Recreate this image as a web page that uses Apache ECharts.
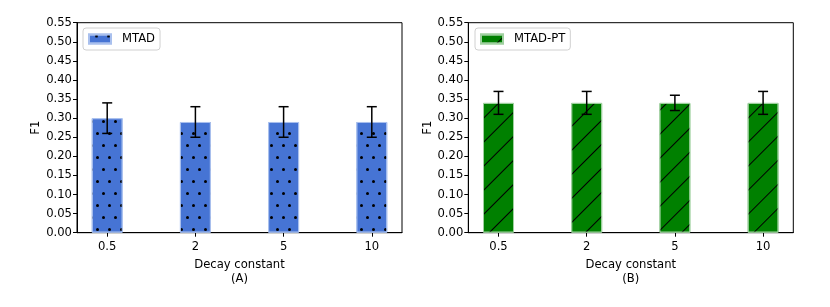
<!DOCTYPE html>
<html><head><meta charset="utf-8">
<script src="https://cdn.jsdelivr.net/npm/echarts@6/dist/echarts.min.js"></script>
<style>html,body{margin:0;padding:0;background:#fff}#c{width:830px;height:307px}</style>
</head><body><div id="c"></div>
<script>
const categories = ['0.5', '2', '5', '10'];
const yTicks = [0, 0.05, 0.10, 0.15, 0.20, 0.25, 0.30, 0.35, 0.40, 0.45, 0.50, 0.55];
const mtadF1 = [0.30, 0.29, 0.29, 0.29];
const mtadLow = [0.26, 0.25, 0.25, 0.25];
const mtadHigh = [0.34, 0.33, 0.33, 0.33];
const ptF1 = [0.34, 0.34, 0.34, 0.34];
const ptLow = [0.31, 0.31, 0.32, 0.31];
const ptHigh = [0.37, 0.37, 0.36, 0.37];

const FONT = 'DejaVu Sans';
const FS = 11.6;
const idx = categories.map((_, i) => i);
const chart = echarts.init(document.getElementById('c'), null, {renderer: 'canvas'});

function xAxis(gi, sub) {
  return {
    type: 'value', gridIndex: gi, min: -0.3425, max: 3.3425,
    name: 'Decay constant\n' + sub, nameLocation: 'middle', nameGap: 13.5,
    nameTextStyle: {fontFamily: FONT, fontSize: FS, color: '#000', lineHeight: 14.5},
    axisLine: {show: true, onZero: false, lineStyle: {color: '#000', width: 1}},
    axisTick: {show: true, customValues: idx, length: 4, lineStyle: {color: '#000'}},
    axisLabel: {customValues: idx, formatter: v => categories[Math.round(v)], fontFamily: FONT, fontSize: FS, color: '#000', margin: 8},
    splitLine: {show: false}
  };
}
function yAxis(gi) {
  return {
    type: 'value', gridIndex: gi, min: yTicks[0], max: yTicks[yTicks.length - 1], interval: 0.05,
    name: 'F1', nameLocation: 'middle', nameGap: 34,
    nameTextStyle: {fontFamily: FONT, fontSize: FS, color: '#000'},
    axisLine: {show: true, onZero: false, lineStyle: {color: '#000', width: 1}},
    axisTick: {show: true, length: 4, lineStyle: {color: '#000'}},
    axisLabel: {formatter: v => v.toFixed(2), fontFamily: FONT, fontSize: FS, color: '#000', margin: 5},
    splitLine: {show: false}
  };
}
function errSeries(gi, low, high) {
  return {
    type: 'custom', xAxisIndex: gi, yAxisIndex: gi, z: 5,
    data: idx.map(i => [i, low[i], high[i]]),
    renderItem: (params, api) => {
      const p1 = api.coord([api.value(0), api.value(1)]);
      const p2 = api.coord([api.value(0), api.value(2)]);
      const st = {stroke: '#000', lineWidth: 1.5};
      const c = 5;
      return {type: 'group', children: [
        {type: 'line', shape: {x1: p1[0], y1: p1[1], x2: p2[0], y2: p2[1]}, style: st},
        {type: 'line', shape: {x1: p1[0] - c, y1: p1[1], x2: p1[0] + c, y2: p1[1]}, style: st},
        {type: 'line', shape: {x1: p2[0] - c, y1: p2[1], x2: p2[0] + c, y2: p2[1]}, style: st}
      ]};
    }
  };
}
const dotDecal = {symbol: 'circle', symbolSize: 1, dashArrayX: [[3, 8.5], [0, 5.75, 3, 2.75]], dashArrayY: [3, 8.7], color: '#000', rotation: 0};
const lineDecal = {symbol: 'rect', symbolSize: 1, dashArrayX: [1, 0], dashArrayY: [0.9, 15.6], color: '#000', rotation: -Math.PI / 4};

const legendBase = {itemWidth: 22, itemHeight: 9, itemGap: 8, padding: [5, 5, 5, 5], icon: 'rect',
  borderColor: '#d0d0d0', borderWidth: 1, borderRadius: 3,
  textStyle: {fontFamily: FONT, fontSize: FS, color: '#000', padding: [0, 0, 0, 6]}};

chart.setOption({
  animation: false,
  grid: [
    {left: 77, top: 22.7, width: 325, height: 210, show: true, borderColor: '#000', borderWidth: 1},
    {left: 468.3, top: 22.7, width: 325, height: 210, show: true, borderColor: '#000', borderWidth: 1}
  ],
  xAxis: [xAxis(0, '(A)'), xAxis(1, '(B)')],
  yAxis: [yAxis(0), yAxis(1)],
  legend: [
    Object.assign({data: ['MTAD'], left: 83, top: 28}, legendBase),
    Object.assign({data: ['MTAD-PT'], left: 475, top: 28}, legendBase)
  ],
  series: [
    {name: 'MTAD', type: 'bar', xAxisIndex: 0, yAxisIndex: 0, barWidth: 31,
     data: idx.map(i => [i, mtadF1[i]]),
     itemStyle: {color: '#4674d4', borderColor: '#a9c0ee', borderWidth: 1, decal: dotDecal}},
    errSeries(0, mtadLow, mtadHigh),
    {name: 'MTAD-PT', type: 'bar', xAxisIndex: 1, yAxisIndex: 1, barWidth: 31,
     data: idx.map(i => [i, ptF1[i]]),
     itemStyle: {color: '#008000', borderColor: '#9fd09f', borderWidth: 1, decal: lineDecal}},
    errSeries(1, ptLow, ptHigh)
  ]
});
</script></body></html>
